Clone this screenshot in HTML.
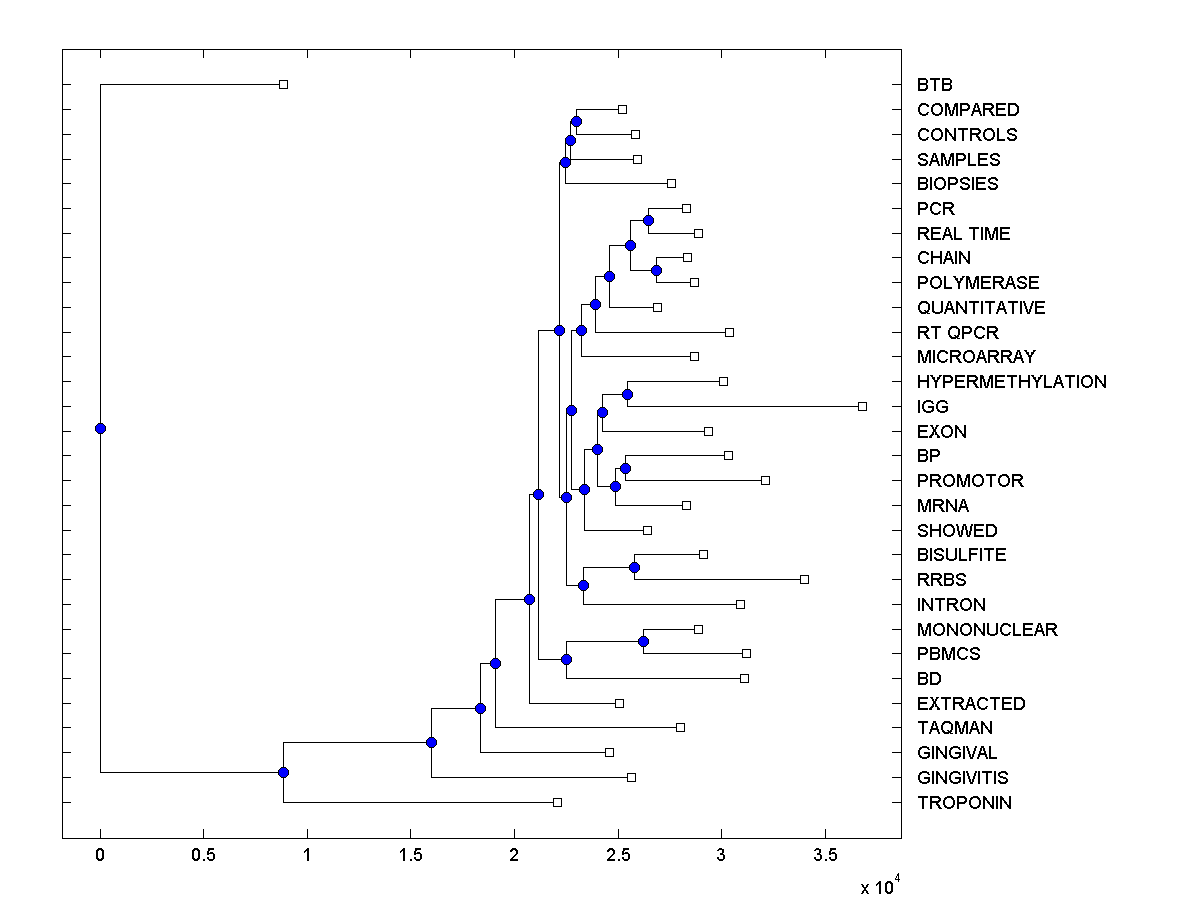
<!DOCTYPE html>
<html><head><meta charset="utf-8"><title>dendrogram</title>
<style>
html,body{margin:0;padding:0;background:#fff;}
body{width:1200px;height:900px;position:relative;overflow:hidden;font-family:"Liberation Sans",sans-serif;color:#000;}
svg{position:absolute;left:0;top:0;}
.l,.t,.e{position:absolute;color:transparent;font-size:18px;line-height:22px;height:22px;white-space:nowrap;font-kerning:none;}
.l{left:917px;}
.t{top:844px;width:61px;text-align:center;}
.e{left:860px;top:877px;}
.e sup{font-size:12px;line-height:0;}
</style></head><body>
<svg width="1200" height="900" viewBox="0 0 1200 900" shape-rendering="crispEdges">
<defs><g id="n"><rect x="-2" y="-5" width="5" height="1" fill="#000"/><rect x="-3" y="-4" width="7" height="1" fill="#000"/><rect x="-4" y="-3" width="9" height="1" fill="#000"/><rect x="-5" y="-2" width="11" height="1" fill="#000"/><rect x="-5" y="-1" width="11" height="1" fill="#000"/><rect x="-5" y="0" width="11" height="1" fill="#000"/><rect x="-5" y="1" width="11" height="1" fill="#000"/><rect x="-5" y="2" width="11" height="1" fill="#000"/><rect x="-4" y="3" width="9" height="1" fill="#000"/><rect x="-3" y="4" width="7" height="1" fill="#000"/><rect x="-2" y="5" width="5" height="1" fill="#000"/><rect x="-2" y="-4" width="5" height="1" fill="#00f"/><rect x="-3" y="-3" width="7" height="1" fill="#00f"/><rect x="-4" y="-2" width="9" height="1" fill="#00f"/><rect x="-4" y="-1" width="9" height="1" fill="#00f"/><rect x="-4" y="0" width="9" height="1" fill="#00f"/><rect x="-4" y="1" width="9" height="1" fill="#00f"/><rect x="-4" y="2" width="9" height="1" fill="#00f"/><rect x="-3" y="3" width="7" height="1" fill="#00f"/><rect x="-2" y="4" width="5" height="1" fill="#00f"/></g><path id="LA" d="M4 0h3v1h-3zM4 1h3v1h-3zM3 2h2v1h-2zM6 2h2v1h-2zM3 3h2v1h-2zM6 3h2v1h-2zM3 4h2v1h-2zM6 4h2v1h-2zM2 5h2v1h-2zM7 5h2v1h-2zM2 6h2v1h-2zM7 6h2v1h-2zM2 7h7v1h-7zM1 8h9v1h-9zM1 9h2v1h-2zM8 9h2v1h-2zM1 10h2v1h-2zM8 10h2v1h-2zM0 11h2v1h-2zM9 11h2v1h-2zM0 12h2v1h-2zM9 12h2v1h-2z"/><path id="LB" d="M0 0h8v1h-8zM0 1h9v1h-9zM0 2h2v1h-2zM8 2h2v1h-2zM0 3h2v1h-2zM8 3h2v1h-2zM0 4h2v1h-2zM8 4h2v1h-2zM0 5h9v1h-9zM0 6h9v1h-9zM0 7h2v1h-2zM8 7h2v1h-2zM0 8h2v1h-2zM8 8h2v1h-2zM0 9h2v1h-2zM8 9h2v1h-2zM0 10h2v1h-2zM7 10h3v1h-3zM0 11h9v1h-9zM0 12h8v1h-8z"/><path id="LC" d="M3 0h5v1h-5zM2 1h8v1h-8zM1 2h3v1h-3zM8 2h3v1h-3zM1 3h2v1h-2zM9 3h2v1h-2zM0 4h2v1h-2zM0 5h2v1h-2zM0 6h2v1h-2zM0 7h2v1h-2zM0 8h2v1h-2zM1 9h2v1h-2zM9 9h2v1h-2zM1 10h3v1h-3zM8 10h2v1h-2zM2 11h8v1h-8zM4 12h4v1h-4z"/><path id="LD" d="M0 0h8v1h-8zM0 1h9v1h-9zM0 2h2v1h-2zM7 2h3v1h-3zM0 3h2v1h-2zM8 3h3v1h-3zM0 4h2v1h-2zM9 4h2v1h-2zM0 5h2v1h-2zM9 5h2v1h-2zM0 6h2v1h-2zM9 6h2v1h-2zM0 7h2v1h-2zM9 7h2v1h-2zM0 8h2v1h-2zM9 8h2v1h-2zM0 9h2v1h-2zM8 9h3v1h-3zM0 10h2v1h-2zM7 10h3v1h-3zM0 11h9v1h-9zM0 12h8v1h-8z"/><path id="LE" d="M0 0h10v1h-10zM0 1h10v1h-10zM0 2h2v1h-2zM0 3h2v1h-2zM0 4h2v1h-2zM0 5h9v1h-9zM0 6h9v1h-9zM0 7h2v1h-2zM0 8h2v1h-2zM0 9h2v1h-2zM0 10h2v1h-2zM0 11h10v1h-10zM0 12h10v1h-10z"/><path id="LF" d="M0 0h9v1h-9zM0 1h9v1h-9zM0 2h2v1h-2zM0 3h2v1h-2zM0 4h2v1h-2zM0 5h8v1h-8zM0 6h8v1h-8zM0 7h2v1h-2zM0 8h2v1h-2zM0 9h2v1h-2zM0 10h2v1h-2zM0 11h2v1h-2zM0 12h2v1h-2z"/><path id="LG" d="M4 0h5v1h-5zM2 1h9v1h-9zM1 2h3v1h-3zM9 2h2v1h-2zM1 3h2v1h-2zM10 3h2v1h-2zM0 4h2v1h-2zM0 5h2v1h-2zM0 6h2v1h-2zM6 6h6v1h-6zM0 7h2v1h-2zM6 7h6v1h-6zM0 8h2v1h-2zM10 8h2v1h-2zM1 9h2v1h-2zM10 9h2v1h-2zM1 10h3v1h-3zM9 10h3v1h-3zM2 11h9v1h-9zM4 12h5v1h-5z"/><path id="LH" d="M0 0h2v1h-2zM9 0h2v1h-2zM0 1h2v1h-2zM9 1h2v1h-2zM0 2h2v1h-2zM9 2h2v1h-2zM0 3h2v1h-2zM9 3h2v1h-2zM0 4h2v1h-2zM9 4h2v1h-2zM0 5h11v1h-11zM0 6h11v1h-11zM0 7h2v1h-2zM9 7h2v1h-2zM0 8h2v1h-2zM9 8h2v1h-2zM0 9h2v1h-2zM9 9h2v1h-2zM0 10h2v1h-2zM9 10h2v1h-2zM0 11h2v1h-2zM9 11h2v1h-2zM0 12h2v1h-2zM9 12h2v1h-2z"/><path id="LI" d="M0 0h2v1h-2zM0 1h2v1h-2zM0 2h2v1h-2zM0 3h2v1h-2zM0 4h2v1h-2zM0 5h2v1h-2zM0 6h2v1h-2zM0 7h2v1h-2zM0 8h2v1h-2zM0 9h2v1h-2zM0 10h2v1h-2zM0 11h2v1h-2zM0 12h2v1h-2z"/><path id="LL" d="M0 0h2v1h-2zM0 1h2v1h-2zM0 2h2v1h-2zM0 3h2v1h-2zM0 4h2v1h-2zM0 5h2v1h-2zM0 6h2v1h-2zM0 7h2v1h-2zM0 8h2v1h-2zM0 9h2v1h-2zM0 10h2v1h-2zM0 11h8v1h-8zM0 12h8v1h-8z"/><path id="LM" d="M0 0h3v1h-3zM10 0h3v1h-3zM0 1h4v1h-4zM9 1h4v1h-4zM0 2h4v1h-4zM9 2h4v1h-4zM0 3h4v1h-4zM9 3h4v1h-4zM0 4h2v1h-2zM3 4h2v1h-2zM8 4h2v1h-2zM11 4h2v1h-2zM0 5h2v1h-2zM3 5h2v1h-2zM8 5h2v1h-2zM11 5h2v1h-2zM0 6h2v1h-2zM3 6h2v1h-2zM8 6h2v1h-2zM11 6h2v1h-2zM0 7h2v1h-2zM4 7h2v1h-2zM7 7h2v1h-2zM11 7h2v1h-2zM0 8h2v1h-2zM4 8h2v1h-2zM7 8h2v1h-2zM11 8h2v1h-2zM0 9h2v1h-2zM4 9h2v1h-2zM7 9h2v1h-2zM11 9h2v1h-2zM0 10h2v1h-2zM4 10h2v1h-2zM7 10h2v1h-2zM11 10h2v1h-2zM0 11h2v1h-2zM5 11h3v1h-3zM11 11h2v1h-2zM0 12h2v1h-2zM5 12h3v1h-3zM11 12h2v1h-2z"/><path id="LN" d="M0 0h2v1h-2zM9 0h2v1h-2zM0 1h3v1h-3zM9 1h2v1h-2zM0 2h4v1h-4zM9 2h2v1h-2zM0 3h4v1h-4zM9 3h2v1h-2zM0 4h2v1h-2zM3 4h2v1h-2zM9 4h2v1h-2zM0 5h2v1h-2zM4 5h2v1h-2zM9 5h2v1h-2zM0 6h2v1h-2zM4 6h3v1h-3zM9 6h2v1h-2zM0 7h2v1h-2zM5 7h2v1h-2zM9 7h2v1h-2zM0 8h2v1h-2zM6 8h2v1h-2zM9 8h2v1h-2zM0 9h2v1h-2zM7 9h4v1h-4zM0 10h2v1h-2zM7 10h4v1h-4zM0 11h2v1h-2zM8 11h3v1h-3zM0 12h2v1h-2zM9 12h2v1h-2z"/><path id="LO" d="M4 0h5v1h-5zM2 1h8v1h-8zM1 2h3v1h-3zM8 2h3v1h-3zM1 3h2v1h-2zM9 3h2v1h-2zM0 4h2v1h-2zM10 4h2v1h-2zM0 5h2v1h-2zM10 5h2v1h-2zM0 6h2v1h-2zM10 6h2v1h-2zM0 7h2v1h-2zM10 7h2v1h-2zM0 8h2v1h-2zM10 8h2v1h-2zM1 9h2v1h-2zM9 9h2v1h-2zM1 10h3v1h-3zM8 10h3v1h-3zM2 11h8v1h-8zM4 12h4v1h-4z"/><path id="LP" d="M0 0h8v1h-8zM0 1h9v1h-9zM0 2h2v1h-2zM7 2h3v1h-3zM0 3h2v1h-2zM8 3h2v1h-2zM0 4h2v1h-2zM8 4h2v1h-2zM0 5h2v1h-2zM7 5h3v1h-3zM0 6h9v1h-9zM0 7h8v1h-8zM0 8h2v1h-2zM0 9h2v1h-2zM0 10h2v1h-2zM0 11h2v1h-2zM0 12h2v1h-2z"/><path id="LQ" d="M3 0h6v1h-6zM2 1h8v1h-8zM1 2h3v1h-3zM8 2h3v1h-3zM1 3h2v1h-2zM10 3h2v1h-2zM0 4h2v1h-2zM10 4h2v1h-2zM0 5h2v1h-2zM10 5h2v1h-2zM0 6h2v1h-2zM10 6h2v1h-2zM0 7h2v1h-2zM10 7h2v1h-2zM0 8h2v1h-2zM10 8h2v1h-2zM1 9h2v1h-2zM6 9h2v1h-2zM9 9h2v1h-2zM1 10h3v1h-3zM7 10h4v1h-4zM2 11h8v1h-8zM3 12h5v1h-5zM9 12h3v1h-3z"/><path id="LR" d="M0 0h9v1h-9zM0 1h10v1h-10zM0 2h2v1h-2zM8 2h3v1h-3zM0 3h2v1h-2zM9 3h2v1h-2zM0 4h2v1h-2zM8 4h3v1h-3zM0 5h10v1h-10zM0 6h9v1h-9zM0 7h2v1h-2zM6 7h2v1h-2zM0 8h2v1h-2zM6 8h3v1h-3zM0 9h2v1h-2zM7 9h3v1h-3zM0 10h2v1h-2zM8 10h2v1h-2zM0 11h2v1h-2zM8 11h3v1h-3zM0 12h2v1h-2zM9 12h3v1h-3z"/><path id="LS" d="M3 0h5v1h-5zM1 1h8v1h-8zM0 2h3v1h-3zM7 2h3v1h-3zM0 3h2v1h-2zM8 3h2v1h-2zM0 4h2v1h-2zM1 5h4v1h-4zM2 6h6v1h-6zM5 7h4v1h-4zM8 8h2v1h-2zM0 9h2v1h-2zM8 9h2v1h-2zM0 10h3v1h-3zM7 10h3v1h-3zM1 11h8v1h-8zM2 12h6v1h-6z"/><path id="LT" d="M0 0h10v1h-10zM0 1h10v1h-10zM4 2h2v1h-2zM4 3h2v1h-2zM4 4h2v1h-2zM4 5h2v1h-2zM4 6h2v1h-2zM4 7h2v1h-2zM4 8h2v1h-2zM4 9h2v1h-2zM4 10h2v1h-2zM4 11h2v1h-2zM4 12h2v1h-2z"/><path id="LU" d="M0 0h2v1h-2zM9 0h2v1h-2zM0 1h2v1h-2zM9 1h2v1h-2zM0 2h2v1h-2zM9 2h2v1h-2zM0 3h2v1h-2zM9 3h2v1h-2zM0 4h2v1h-2zM9 4h2v1h-2zM0 5h2v1h-2zM9 5h2v1h-2zM0 6h2v1h-2zM9 6h2v1h-2zM0 7h2v1h-2zM9 7h2v1h-2zM0 8h2v1h-2zM9 8h2v1h-2zM0 9h2v1h-2zM9 9h2v1h-2zM0 10h3v1h-3zM8 10h3v1h-3zM1 11h9v1h-9zM3 12h5v1h-5z"/><path id="LV" d="M0 0h2v1h-2zM9 0h2v1h-2zM0 1h2v1h-2zM9 1h2v1h-2zM1 2h2v1h-2zM8 2h2v1h-2zM1 3h2v1h-2zM8 3h2v1h-2zM1 4h2v1h-2zM8 4h2v1h-2zM2 5h2v1h-2zM7 5h2v1h-2zM2 6h2v1h-2zM7 6h2v1h-2zM2 7h2v1h-2zM7 7h2v1h-2zM3 8h2v1h-2zM6 8h2v1h-2zM3 9h2v1h-2zM6 9h2v1h-2zM3 10h2v1h-2zM6 10h2v1h-2zM4 11h3v1h-3zM4 12h3v1h-3z"/><path id="LW" d="M0 0h2v1h-2zM7 0h3v1h-3zM15 0h2v1h-2zM0 1h2v1h-2zM7 1h3v1h-3zM15 1h2v1h-2zM1 2h2v1h-2zM6 2h2v1h-2zM9 2h2v1h-2zM14 2h2v1h-2zM1 3h2v1h-2zM6 3h2v1h-2zM9 3h2v1h-2zM14 3h2v1h-2zM1 4h2v1h-2zM6 4h2v1h-2zM9 4h2v1h-2zM14 4h2v1h-2zM1 5h2v1h-2zM6 5h2v1h-2zM9 5h2v1h-2zM14 5h2v1h-2zM1 6h2v1h-2zM5 6h2v1h-2zM10 6h2v1h-2zM14 6h2v1h-2zM2 7h2v1h-2zM5 7h2v1h-2zM10 7h2v1h-2zM13 7h2v1h-2zM2 8h2v1h-2zM5 8h2v1h-2zM10 8h2v1h-2zM13 8h2v1h-2zM2 9h2v1h-2zM5 9h2v1h-2zM10 9h2v1h-2zM13 9h2v1h-2zM2 10h2v1h-2zM5 10h2v1h-2zM10 10h2v1h-2zM13 10h2v1h-2zM3 11h3v1h-3zM11 11h3v1h-3zM3 12h3v1h-3zM11 12h3v1h-3z"/><path id="LX" d="M1 0h3v1h-3zM7 0h3v1h-3zM2 1h2v1h-2zM7 1h2v1h-2zM3 2h2v1h-2zM6 2h2v1h-2zM3 3h2v1h-2zM6 3h2v1h-2zM4 4h3v1h-3zM4 5h3v1h-3zM4 6h3v1h-3zM3 7h2v1h-2zM6 7h2v1h-2zM3 8h2v1h-2zM6 8h2v1h-2zM2 9h3v1h-3zM6 9h3v1h-3zM1 10h3v1h-3zM8 10h2v1h-2zM0 11h3v1h-3zM8 11h3v1h-3zM0 12h3v1h-3zM8 12h3v1h-3z"/><path id="LY" d="M0 0h3v1h-3zM9 0h3v1h-3zM1 1h2v1h-2zM9 1h2v1h-2zM2 2h3v1h-3zM7 2h3v1h-3zM2 3h3v1h-3zM7 3h3v1h-3zM3 4h2v1h-2zM7 4h2v1h-2zM4 5h4v1h-4zM4 6h4v1h-4zM5 7h2v1h-2zM5 8h2v1h-2zM5 9h2v1h-2zM5 10h2v1h-2zM5 11h2v1h-2zM5 12h2v1h-2z"/><path id="D0" d="M2 0h4v1h-4zM1 1h6v1h-6zM0 2h3v1h-3zM5 2h3v1h-3zM0 3h2v1h-2zM6 3h2v1h-2zM0 4h2v1h-2zM6 4h2v1h-2zM0 5h2v1h-2zM6 5h2v1h-2zM0 6h2v1h-2zM6 6h2v1h-2zM0 7h2v1h-2zM6 7h2v1h-2zM0 8h2v1h-2zM6 8h2v1h-2zM0 9h2v1h-2zM6 9h2v1h-2zM0 10h3v1h-3zM5 10h3v1h-3zM1 11h6v1h-6zM2 12h4v1h-4z"/><path id="D1" d="M3 0h2v1h-2zM2 1h3v1h-3zM1 2h4v1h-4zM0 3h2v1h-2zM3 3h2v1h-2zM0 4h1v1h-1zM3 4h2v1h-2zM3 5h2v1h-2zM3 6h2v1h-2zM3 7h2v1h-2zM3 8h2v1h-2zM3 9h2v1h-2zM3 10h2v1h-2zM3 11h2v1h-2zM3 12h2v1h-2z"/><path id="D2" d="M2 0h4v1h-4zM1 1h6v1h-6zM0 2h3v1h-3zM5 2h3v1h-3zM0 3h2v1h-2zM6 3h2v1h-2zM6 4h2v1h-2zM6 5h2v1h-2zM5 6h2v1h-2zM4 7h2v1h-2zM3 8h2v1h-2zM2 9h2v1h-2zM1 10h2v1h-2zM0 11h8v1h-8zM0 12h8v1h-8z"/><path id="D3" d="M2 0h3v1h-3zM1 1h6v1h-6zM0 2h2v1h-2zM5 2h2v1h-2zM5 3h2v1h-2zM5 4h2v1h-2zM3 5h3v1h-3zM3 6h4v1h-4zM6 7h2v1h-2zM6 8h2v1h-2zM0 9h2v1h-2zM6 9h2v1h-2zM0 10h2v1h-2zM6 10h2v1h-2zM1 11h6v1h-6zM2 12h4v1h-4z"/><path id="D5" d="M1 0h6v1h-6zM1 1h6v1h-6zM1 2h2v1h-2zM0 3h2v1h-2zM0 4h2v1h-2zM3 4h3v1h-3zM0 5h7v1h-7zM0 6h2v1h-2zM6 6h2v1h-2zM6 7h2v1h-2zM6 8h2v1h-2zM0 9h2v1h-2zM6 9h2v1h-2zM0 10h2v1h-2zM6 10h2v1h-2zM1 11h6v1h-6zM2 12h4v1h-4z"/><path id="Dp" d="M0 11h2v1h-2zM0 12h2v1h-2z"/><path id="Dx" d="M0 3h2v1h-2zM6 3h2v1h-2zM1 4h2v1h-2zM5 4h2v1h-2zM1 5h2v1h-2zM5 5h2v1h-2zM2 6h4v1h-4zM3 7h2v1h-2zM3 8h2v1h-2zM2 9h4v1h-4zM1 10h2v1h-2zM5 10h2v1h-2zM1 11h2v1h-2zM5 11h2v1h-2zM0 12h2v1h-2zM6 12h2v1h-2z"/><path id="D4" d="M3 0h1v1h-1zM2 1h2v1h-2zM2 2h2v1h-2zM1 3h1v1h-1zM3 3h1v1h-1zM1 4h1v1h-1zM3 4h1v1h-1zM0 5h1v1h-1zM3 5h1v1h-1zM0 6h5v1h-5zM3 7h1v1h-1zM3 8h1v1h-1z"/></defs>
<g fill="#000">
<path d="M62 49h840v1h-840zM62 838h840v1h-840zM62 49h1v790h-1zM901 49h1v790h-1zM100 49h1v9h-1zM100 829h1v10h-1zM203 49h1v9h-1zM203 829h1v10h-1zM307 49h1v9h-1zM307 829h1v10h-1zM410 49h1v9h-1zM410 829h1v10h-1zM514 49h1v9h-1zM514 829h1v10h-1zM618 49h1v9h-1zM618 829h1v10h-1zM721 49h1v9h-1zM721 829h1v10h-1zM825 49h1v9h-1zM825 829h1v10h-1zM62 84h9v1h-9zM892 84h10v1h-10zM62 109h9v1h-9zM892 109h10v1h-10zM62 134h9v1h-9zM892 134h10v1h-10zM62 159h9v1h-9zM892 159h10v1h-10zM62 183h9v1h-9zM892 183h10v1h-10zM62 208h9v1h-9zM892 208h10v1h-10zM62 233h9v1h-9zM892 233h10v1h-10zM62 257h9v1h-9zM892 257h10v1h-10zM62 282h9v1h-9zM892 282h10v1h-10zM62 307h9v1h-9zM892 307h10v1h-10zM62 332h9v1h-9zM892 332h10v1h-10zM62 356h9v1h-9zM892 356h10v1h-10zM62 381h9v1h-9zM892 381h10v1h-10zM62 406h9v1h-9zM892 406h10v1h-10zM62 431h9v1h-9zM892 431h10v1h-10zM62 455h9v1h-9zM892 455h10v1h-10zM62 480h9v1h-9zM892 480h10v1h-10zM62 505h9v1h-9zM892 505h10v1h-10zM62 530h9v1h-9zM892 530h10v1h-10zM62 554h9v1h-9zM892 554h10v1h-10zM62 579h9v1h-9zM892 579h10v1h-10zM62 604h9v1h-9zM892 604h10v1h-10zM62 629h9v1h-9zM892 629h10v1h-10zM62 653h9v1h-9zM892 653h10v1h-10zM62 678h9v1h-9zM892 678h10v1h-10zM62 703h9v1h-9zM892 703h10v1h-10zM62 727h9v1h-9zM892 727h10v1h-10zM62 752h9v1h-9zM892 752h10v1h-10zM62 777h9v1h-9zM892 777h10v1h-10zM62 802h9v1h-9zM892 802h10v1h-10zM100 84h1v689h-1zM100 84h184v1h-184zM100 772h184v1h-184zM283 742h1v61h-1zM283 742h149v1h-149zM283 802h275v1h-275zM431 708h1v70h-1zM431 708h50v1h-50zM431 777h201v1h-201zM480 663h1v90h-1zM480 663h16v1h-16zM480 752h130v1h-130zM495 599h1v129h-1zM495 599h35v1h-35zM495 727h186v1h-186zM529 494h1v210h-1zM529 494h10v1h-10zM529 703h91v1h-91zM538 330h1v330h-1zM538 330h22v1h-22zM538 659h29v1h-29zM566 641h1v38h-1zM566 641h78v1h-78zM566 678h179v1h-179zM643 629h1v25h-1zM643 629h56v1h-56zM643 653h104v1h-104zM559 162h1v336h-1zM559 162h7v1h-7zM559 497h8v1h-8zM565 140h1v44h-1zM565 140h6v1h-6zM565 183h107v1h-107zM570 121h1v39h-1zM570 121h7v1h-7zM570 159h68v1h-68zM576 109h1v26h-1zM576 109h47v1h-47zM576 134h60v1h-60zM566 410h1v176h-1zM566 410h6v1h-6zM566 585h18v1h-18zM571 330h1v160h-1zM571 330h11v1h-11zM571 489h14v1h-14zM581 304h1v53h-1zM581 304h15v1h-15zM581 356h114v1h-114zM595 276h1v57h-1zM595 276h15v1h-15zM595 332h135v1h-135zM609 245h1v63h-1zM609 245h22v1h-22zM609 307h49v1h-49zM630 220h1v51h-1zM630 220h19v1h-19zM630 270h27v1h-27zM648 208h1v26h-1zM648 208h39v1h-39zM648 233h51v1h-51zM656 257h1v26h-1zM656 257h32v1h-32zM656 282h39v1h-39zM584 449h1v82h-1zM584 449h14v1h-14zM584 530h64v1h-64zM597 412h1v75h-1zM597 412h6v1h-6zM597 486h19v1h-19zM602 394h1v38h-1zM602 394h26v1h-26zM602 431h107v1h-107zM627 381h1v26h-1zM627 381h97v1h-97zM627 406h236v1h-236zM615 468h1v38h-1zM615 468h11v1h-11zM615 505h72v1h-72zM625 455h1v26h-1zM625 455h104v1h-104zM625 480h141v1h-141zM583 567h1v38h-1zM583 567h52v1h-52zM583 604h158v1h-158zM634 554h1v26h-1zM634 554h70v1h-70zM634 579h171v1h-171z"/>
</g>
<rect x="279" y="80" width="9" height="9" fill="#000"/><rect x="280" y="81" width="7" height="7" fill="#fff"/><rect x="618" y="105" width="9" height="9" fill="#000"/><rect x="619" y="106" width="7" height="7" fill="#fff"/><rect x="631" y="130" width="9" height="9" fill="#000"/><rect x="632" y="131" width="7" height="7" fill="#fff"/><rect x="633" y="155" width="9" height="9" fill="#000"/><rect x="634" y="156" width="7" height="7" fill="#fff"/><rect x="667" y="179" width="9" height="9" fill="#000"/><rect x="668" y="180" width="7" height="7" fill="#fff"/><rect x="682" y="204" width="9" height="9" fill="#000"/><rect x="683" y="205" width="7" height="7" fill="#fff"/><rect x="694" y="229" width="9" height="9" fill="#000"/><rect x="695" y="230" width="7" height="7" fill="#fff"/><rect x="683" y="253" width="9" height="9" fill="#000"/><rect x="684" y="254" width="7" height="7" fill="#fff"/><rect x="690" y="278" width="9" height="9" fill="#000"/><rect x="691" y="279" width="7" height="7" fill="#fff"/><rect x="653" y="303" width="9" height="9" fill="#000"/><rect x="654" y="304" width="7" height="7" fill="#fff"/><rect x="725" y="328" width="9" height="9" fill="#000"/><rect x="726" y="329" width="7" height="7" fill="#fff"/><rect x="690" y="352" width="9" height="9" fill="#000"/><rect x="691" y="353" width="7" height="7" fill="#fff"/><rect x="719" y="377" width="9" height="9" fill="#000"/><rect x="720" y="378" width="7" height="7" fill="#fff"/><rect x="858" y="402" width="9" height="9" fill="#000"/><rect x="859" y="403" width="7" height="7" fill="#fff"/><rect x="704" y="427" width="9" height="9" fill="#000"/><rect x="705" y="428" width="7" height="7" fill="#fff"/><rect x="724" y="451" width="9" height="9" fill="#000"/><rect x="725" y="452" width="7" height="7" fill="#fff"/><rect x="761" y="476" width="9" height="9" fill="#000"/><rect x="762" y="477" width="7" height="7" fill="#fff"/><rect x="682" y="501" width="9" height="9" fill="#000"/><rect x="683" y="502" width="7" height="7" fill="#fff"/><rect x="643" y="526" width="9" height="9" fill="#000"/><rect x="644" y="527" width="7" height="7" fill="#fff"/><rect x="699" y="550" width="9" height="9" fill="#000"/><rect x="700" y="551" width="7" height="7" fill="#fff"/><rect x="800" y="575" width="9" height="9" fill="#000"/><rect x="801" y="576" width="7" height="7" fill="#fff"/><rect x="736" y="600" width="9" height="9" fill="#000"/><rect x="737" y="601" width="7" height="7" fill="#fff"/><rect x="694" y="625" width="9" height="9" fill="#000"/><rect x="695" y="626" width="7" height="7" fill="#fff"/><rect x="742" y="649" width="9" height="9" fill="#000"/><rect x="743" y="650" width="7" height="7" fill="#fff"/><rect x="740" y="674" width="9" height="9" fill="#000"/><rect x="741" y="675" width="7" height="7" fill="#fff"/><rect x="615" y="699" width="9" height="9" fill="#000"/><rect x="616" y="700" width="7" height="7" fill="#fff"/><rect x="676" y="723" width="9" height="9" fill="#000"/><rect x="677" y="724" width="7" height="7" fill="#fff"/><rect x="605" y="748" width="9" height="9" fill="#000"/><rect x="606" y="749" width="7" height="7" fill="#fff"/><rect x="627" y="773" width="9" height="9" fill="#000"/><rect x="628" y="774" width="7" height="7" fill="#fff"/><rect x="553" y="798" width="9" height="9" fill="#000"/><rect x="554" y="799" width="7" height="7" fill="#fff"/>
<use href="#n" x="100" y="428"/><use href="#n" x="283" y="772"/><use href="#n" x="431" y="742"/><use href="#n" x="480" y="708"/><use href="#n" x="495" y="663"/><use href="#n" x="529" y="599"/><use href="#n" x="538" y="494"/><use href="#n" x="566" y="659"/><use href="#n" x="643" y="641"/><use href="#n" x="559" y="330"/><use href="#n" x="565" y="162"/><use href="#n" x="570" y="140"/><use href="#n" x="576" y="121"/><use href="#n" x="566" y="497"/><use href="#n" x="571" y="410"/><use href="#n" x="581" y="330"/><use href="#n" x="595" y="304"/><use href="#n" x="609" y="276"/><use href="#n" x="630" y="245"/><use href="#n" x="648" y="220"/><use href="#n" x="656" y="270"/><use href="#n" x="584" y="489"/><use href="#n" x="597" y="449"/><use href="#n" x="602" y="412"/><use href="#n" x="627" y="394"/><use href="#n" x="615" y="486"/><use href="#n" x="625" y="468"/><use href="#n" x="583" y="585"/><use href="#n" x="634" y="567"/>
<g fill="#000"><use href="#D0" x="96" y="848"/><use href="#D0" x="192" y="848"/><use href="#Dp" x="203" y="848"/><use href="#D5" x="207" y="848"/><use href="#D1" x="304" y="848"/><use href="#D1" x="400" y="848"/><use href="#Dp" x="410" y="848"/><use href="#D5" x="414" y="848"/><use href="#D2" x="510" y="848"/><use href="#D2" x="607" y="848"/><use href="#Dp" x="618" y="848"/><use href="#D5" x="622" y="848"/><use href="#D3" x="717" y="848"/><use href="#D3" x="814" y="848"/><use href="#Dp" x="825" y="848"/><use href="#D5" x="829" y="848"/><use href="#Dx" x="861" y="881"/><use href="#D1" x="876" y="881"/><use href="#D0" x="885" y="881"/><use href="#D4" x="895" y="873"/></g>
<g fill="#000"><use href="#LB" x="918" y="78"/><use href="#LT" x="930" y="78"/><use href="#LB" x="942" y="78"/><use href="#LC" x="918" y="103"/><use href="#LO" x="931" y="103"/><use href="#LM" x="945" y="103"/><use href="#LP" x="960" y="103"/><use href="#LA" x="971" y="103"/><use href="#LR" x="983" y="103"/><use href="#LE" x="996" y="103"/><use href="#LD" x="1008" y="103"/><use href="#LC" x="918" y="128"/><use href="#LO" x="931" y="128"/><use href="#LN" x="945" y="128"/><use href="#LT" x="958" y="128"/><use href="#LR" x="970" y="128"/><use href="#LO" x="983" y="128"/><use href="#LL" x="997" y="128"/><use href="#LS" x="1007" y="128"/><use href="#LS" x="918" y="153"/><use href="#LA" x="929" y="153"/><use href="#LM" x="941" y="153"/><use href="#LP" x="956" y="153"/><use href="#LL" x="968" y="153"/><use href="#LE" x="978" y="153"/><use href="#LS" x="990" y="153"/><use href="#LB" x="918" y="177"/><use href="#LI" x="930" y="177"/><use href="#LO" x="934" y="177"/><use href="#LP" x="948" y="177"/><use href="#LS" x="960" y="177"/><use href="#LI" x="972" y="177"/><use href="#LE" x="976" y="177"/><use href="#LS" x="988" y="177"/><use href="#LP" x="918" y="202"/><use href="#LC" x="930" y="202"/><use href="#LR" x="943" y="202"/><use href="#LR" x="918" y="227"/><use href="#LE" x="931" y="227"/><use href="#LA" x="942" y="227"/><use href="#LL" x="954" y="227"/><use href="#LT" x="969" y="227"/><use href="#LI" x="981" y="227"/><use href="#LM" x="985" y="227"/><use href="#LE" x="1000" y="227"/><use href="#LC" x="918" y="251"/><use href="#LH" x="931" y="251"/><use href="#LA" x="943" y="251"/><use href="#LI" x="955" y="251"/><use href="#LN" x="959" y="251"/><use href="#LP" x="918" y="276"/><use href="#LO" x="930" y="276"/><use href="#LL" x="944" y="276"/><use href="#LY" x="953" y="276"/><use href="#LM" x="966" y="276"/><use href="#LE" x="981" y="276"/><use href="#LR" x="993" y="276"/><use href="#LA" x="1005" y="276"/><use href="#LS" x="1017" y="276"/><use href="#LE" x="1029" y="276"/><use href="#LQ" x="918" y="301"/><use href="#LU" x="932" y="301"/><use href="#LA" x="944" y="301"/><use href="#LN" x="956" y="301"/><use href="#LT" x="969" y="301"/><use href="#LI" x="981" y="301"/><use href="#LT" x="985" y="301"/><use href="#LA" x="996" y="301"/><use href="#LT" x="1008" y="301"/><use href="#LI" x="1020" y="301"/><use href="#LV" x="1023" y="301"/><use href="#LE" x="1035" y="301"/><use href="#LR" x="918" y="326"/><use href="#LT" x="931" y="326"/><use href="#LQ" x="948" y="326"/><use href="#LP" x="962" y="326"/><use href="#LC" x="974" y="326"/><use href="#LR" x="987" y="326"/><use href="#LM" x="918" y="350"/><use href="#LI" x="933" y="350"/><use href="#LC" x="937" y="350"/><use href="#LR" x="950" y="350"/><use href="#LO" x="963" y="350"/><use href="#LA" x="976" y="350"/><use href="#LR" x="988" y="350"/><use href="#LR" x="1001" y="350"/><use href="#LA" x="1013" y="350"/><use href="#LY" x="1024" y="350"/><use href="#LH" x="918" y="375"/><use href="#LY" x="930" y="375"/><use href="#LP" x="943" y="375"/><use href="#LE" x="955" y="375"/><use href="#LR" x="967" y="375"/><use href="#LM" x="980" y="375"/><use href="#LE" x="995" y="375"/><use href="#LT" x="1007" y="375"/><use href="#LH" x="1019" y="375"/><use href="#LY" x="1031" y="375"/><use href="#LL" x="1044" y="375"/><use href="#LA" x="1053" y="375"/><use href="#LT" x="1065" y="375"/><use href="#LI" x="1077" y="375"/><use href="#LO" x="1081" y="375"/><use href="#LN" x="1095" y="375"/><use href="#LI" x="918" y="400"/><use href="#LG" x="922" y="400"/><use href="#LG" x="936" y="400"/><use href="#LE" x="918" y="425"/><use href="#LX" x="929" y="425"/><use href="#LO" x="941" y="425"/><use href="#LN" x="955" y="425"/><use href="#LB" x="918" y="449"/><use href="#LP" x="930" y="449"/><use href="#LP" x="918" y="474"/><use href="#LR" x="930" y="474"/><use href="#LO" x="943" y="474"/><use href="#LM" x="957" y="474"/><use href="#LO" x="972" y="474"/><use href="#LT" x="986" y="474"/><use href="#LO" x="998" y="474"/><use href="#LR" x="1012" y="474"/><use href="#LM" x="918" y="499"/><use href="#LR" x="933" y="499"/><use href="#LN" x="946" y="499"/><use href="#LA" x="958" y="499"/><use href="#LS" x="918" y="524"/><use href="#LH" x="930" y="524"/><use href="#LO" x="943" y="524"/><use href="#LW" x="956" y="524"/><use href="#LE" x="974" y="524"/><use href="#LD" x="986" y="524"/><use href="#LB" x="918" y="548"/><use href="#LI" x="930" y="548"/><use href="#LS" x="934" y="548"/><use href="#LU" x="946" y="548"/><use href="#LL" x="959" y="548"/><use href="#LF" x="969" y="548"/><use href="#LI" x="980" y="548"/><use href="#LT" x="984" y="548"/><use href="#LE" x="996" y="548"/><use href="#LR" x="918" y="573"/><use href="#LR" x="931" y="573"/><use href="#LB" x="944" y="573"/><use href="#LS" x="956" y="573"/><use href="#LI" x="918" y="598"/><use href="#LN" x="922" y="598"/><use href="#LT" x="935" y="598"/><use href="#LR" x="947" y="598"/><use href="#LO" x="960" y="598"/><use href="#LN" x="974" y="598"/><use href="#LM" x="918" y="623"/><use href="#LO" x="933" y="623"/><use href="#LN" x="947" y="623"/><use href="#LO" x="960" y="623"/><use href="#LN" x="974" y="623"/><use href="#LU" x="987" y="623"/><use href="#LC" x="1000" y="623"/><use href="#LL" x="1013" y="623"/><use href="#LE" x="1023" y="623"/><use href="#LA" x="1034" y="623"/><use href="#LR" x="1046" y="623"/><use href="#LP" x="918" y="647"/><use href="#LB" x="930" y="647"/><use href="#LM" x="942" y="647"/><use href="#LC" x="957" y="647"/><use href="#LS" x="970" y="647"/><use href="#LB" x="918" y="672"/><use href="#LD" x="930" y="672"/><use href="#LE" x="918" y="697"/><use href="#LX" x="929" y="697"/><use href="#LT" x="941" y="697"/><use href="#LR" x="953" y="697"/><use href="#LA" x="965" y="697"/><use href="#LC" x="977" y="697"/><use href="#LT" x="990" y="697"/><use href="#LE" x="1002" y="697"/><use href="#LD" x="1014" y="697"/><use href="#LT" x="918" y="721"/><use href="#LA" x="929" y="721"/><use href="#LQ" x="941" y="721"/><use href="#LM" x="955" y="721"/><use href="#LA" x="969" y="721"/><use href="#LN" x="981" y="721"/><use href="#LG" x="918" y="746"/><use href="#LI" x="932" y="746"/><use href="#LN" x="936" y="746"/><use href="#LG" x="949" y="746"/><use href="#LI" x="963" y="746"/><use href="#LV" x="966" y="746"/><use href="#LA" x="977" y="746"/><use href="#LL" x="989" y="746"/><use href="#LG" x="918" y="771"/><use href="#LI" x="932" y="771"/><use href="#LN" x="936" y="771"/><use href="#LG" x="949" y="771"/><use href="#LI" x="963" y="771"/><use href="#LV" x="966" y="771"/><use href="#LI" x="978" y="771"/><use href="#LT" x="982" y="771"/><use href="#LI" x="994" y="771"/><use href="#LS" x="998" y="771"/><use href="#LT" x="918" y="796"/><use href="#LR" x="930" y="796"/><use href="#LO" x="943" y="796"/><use href="#LP" x="957" y="796"/><use href="#LO" x="969" y="796"/><use href="#LN" x="983" y="796"/><use href="#LI" x="996" y="796"/><use href="#LN" x="1000" y="796"/></g>
</svg>
<div class="l" style="top:73px">BTB</div><div class="l" style="top:98px">COMPARED</div><div class="l" style="top:123px">CONTROLS</div><div class="l" style="top:148px">SAMPLES</div><div class="l" style="top:172px">BIOPSIES</div><div class="l" style="top:197px">PCR</div><div class="l" style="top:222px">REAL TIME</div><div class="l" style="top:246px">CHAIN</div><div class="l" style="top:271px">POLYMERASE</div><div class="l" style="top:296px">QUANTITATIVE</div><div class="l" style="top:321px">RT QPCR</div><div class="l" style="top:345px">MICROARRAY</div><div class="l" style="top:370px">HYPERMETHYLATION</div><div class="l" style="top:395px">IGG</div><div class="l" style="top:420px">EXON</div><div class="l" style="top:444px">BP</div><div class="l" style="top:469px">PROMOTOR</div><div class="l" style="top:494px">MRNA</div><div class="l" style="top:519px">SHOWED</div><div class="l" style="top:543px">BISULFITE</div><div class="l" style="top:568px">RRBS</div><div class="l" style="top:593px">INTRON</div><div class="l" style="top:618px">MONONUCLEAR</div><div class="l" style="top:642px">PBMCS</div><div class="l" style="top:667px">BD</div><div class="l" style="top:692px">EXTRACTED</div><div class="l" style="top:716px">TAQMAN</div><div class="l" style="top:741px">GINGIVAL</div><div class="l" style="top:766px">GINGIVITIS</div><div class="l" style="top:791px">TROPONIN</div><div class="t" style="left:70px">0</div><div class="t" style="left:173px">0.5</div><div class="t" style="left:277px">1</div><div class="t" style="left:380px">1.5</div><div class="t" style="left:484px">2</div><div class="t" style="left:588px">2.5</div><div class="t" style="left:691px">3</div><div class="t" style="left:795px">3.5</div><div class="e">x 10<sup>4</sup></div>
</body></html>
